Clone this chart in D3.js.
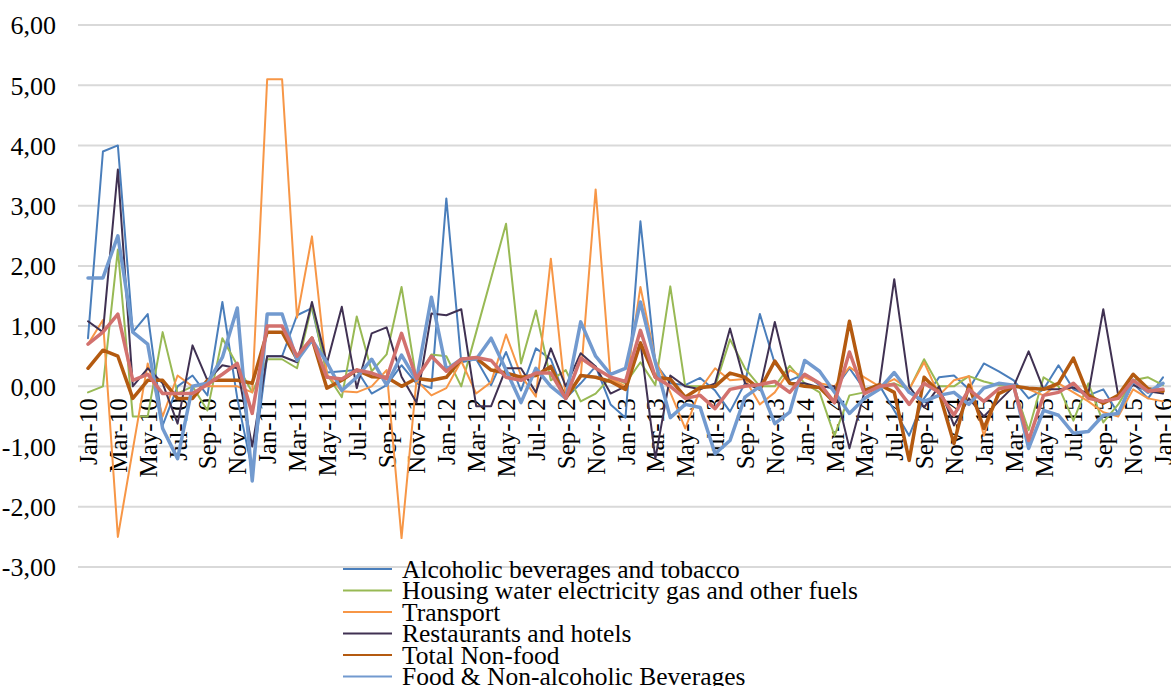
<!DOCTYPE html>
<html>
<head>
<meta charset="utf-8">
<script src="https://cdn.jsdelivr.net/npm/d3@7"></script>
<style>
  html, body { margin: 0; padding: 0; background: #ffffff; overflow: hidden; }
  svg { display: block; }
  text { font-family: "Liberation Serif", "Times New Roman", serif; fill: #000; }
</style>
</head>
<body>
<svg id="chart" width="1171" height="686"></svg>
<script>
// Monthly categories, Jan-10 .. Jan-16
const months = d3.timeMonths(new Date(2010, 0, 1), new Date(2016, 1, 1)).map(d3.timeFormat("%b-%y"));

// Y axis tick values
const yTicks = [-3, -2, -1, 0, 1, 2, 3, 4, 5, 6];

// Series (month-on-month change, %)
const alcoholic = [
  0.80, 3.90, 4.00, 0.90, 1.20, -0.65, 0.00, 0.18, -0.15, 1.40, -0.20, -1.40,
  0.50, 0.50, 1.18, 1.30, 0.23, 0.25, 0.27, -0.12, 0.02, 0.35, 0.05, -0.03,
  3.12, 0.40, 0.45, 0.02, 0.57, -0.07, 0.63, 0.45, -0.20, 0.05, 0.33, -0.30,
  -0.52, 2.74, 0.38, 0.05, 0.02, 0.14, -0.07, -0.42, 0.05, 1.20, 0.38, 0.10,
  0.20, 0.02, -0.05, 0.30, -0.05, 0.02, -0.40, -0.82, -0.20, 0.15, 0.18, -0.05,
  0.38, 0.25, 0.10, -0.20, -0.05, 0.35, -0.05, -0.15, -0.05, -0.45, 0.05, -0.20,
  0.15
];
const housing = [
  -0.10, 0.00, 2.27, -0.50, -0.50, 0.90, -0.12, 0.00, -0.40, 0.80, 0.35, -0.10,
  0.45, 0.45, 0.30, 1.35, 0.20, -0.18, 1.16, 0.25, 0.53, 1.65, 0.10, 0.53,
  0.50, 0.00, 0.90, 1.80, 2.70, 0.38, 1.26, 0.10, 0.27, -0.25, -0.12, 0.15,
  0.05, 0.40, 0.02, 1.66, 0.00, 0.00, 0.00, 0.78, 0.30, 0.00, 0.00, 0.34,
  0.05, -0.10, -0.82, -0.15, -0.10, 0.00, 0.05, -0.05, 0.45, 0.00, 0.00, 0.17,
  0.08, 0.02, 0.00, -0.73, 0.15, 0.00, -0.57, 0.05, -0.60, -0.30, 0.10, 0.15,
  0.02
];
const transport = [
  0.70, 1.10, -2.50, -1.05, 0.38, -0.50, 0.18, 0.00, 0.00, 0.00, 0.00, -0.10,
  5.10, 5.10, 1.14, 2.49, 0.20, -0.08, -0.10, 0.00, 0.27, -2.52, 0.10, -0.15,
  -0.03, 0.42, -0.12, 0.07, 0.86, 0.18, -0.17, 2.12, -0.20, 0.15, 3.27, 0.13,
  0.00, 1.65, 0.44, -0.10, -0.70, -0.05, 0.30, 0.10, 0.12, -0.30, -0.10, 0.27,
  0.15, 0.05, 0.00, 0.32, 0.15, 0.00, 0.12, -0.05, 0.40, -0.15, 0.10, 0.17,
  -0.82, -0.05, 0.02, -0.05, -0.15, 0.05, -0.10, -0.25, -0.43, -0.50, -0.05, -0.20,
  -0.25
];
const restaurants = [
  1.08, 0.90, 3.60, 0.00, 0.30, 0.05, -0.62, 0.68, 0.10, 0.35, 0.30, -1.00,
  0.50, 0.50, 0.40, 1.40, 0.38, 1.32, -0.03, 0.88, 0.98, 0.16, -0.27, 1.21,
  1.18, 1.28, -0.33, -0.33, 0.30, 0.30, -0.10, 0.63, 0.00, 0.55, 0.33, -0.12,
  0.00, 0.73, -1.20, 0.18, 0.00, -0.05, 0.05, 0.96, 0.05, -0.05, 1.07, 0.05,
  0.05, -0.02, 0.00, -1.03, -0.10, 0.02, 1.78, 0.00, -0.35, 0.00, -0.65, -0.20,
  -0.50, -0.25, 0.00, 0.58, -0.05, -0.05, -0.02, -0.12, 1.28, -0.15, 0.02, -0.08,
  -0.12
];
const totalNonFood = [
  0.30, 0.60, 0.50, -0.20, 0.10, 0.10, -0.20, -0.20, 0.10, 0.10, 0.10, 0.05,
  0.90, 0.90, 0.45, 0.80, -0.03, 0.10, 0.27, 0.16, 0.15, 0.00, 0.13, 0.10,
  0.15, 0.45, 0.47, 0.27, 0.22, 0.15, 0.18, 0.33, -0.20, 0.18, 0.15, 0.08,
  -0.05, 0.72, 0.15, 0.12, -0.18, -0.02, 0.00, 0.22, 0.15, -0.05, 0.42, 0.05,
  0.00, -0.02, -0.27, 1.08, -0.07, 0.03, -0.10, -1.23, 0.15, -0.10, -0.95, 0.02,
  -0.70, -0.12, 0.00, -0.03, -0.05, 0.05, 0.47, -0.15, -0.28, -0.15, 0.20, -0.04,
  -0.08
];
const food = [
  1.80, 1.80, 2.50, 0.90, 0.70, -0.70, -1.20, 0.00, 0.05, 0.48, 1.30, -1.57,
  1.20, 1.20, 0.43, 0.77, 0.40, -0.07, 0.15, 0.45, 0.02, 0.52, 0.10, 1.48,
  0.28, 0.45, 0.45, 0.80, 0.27, -0.27, 0.30, 0.00, -0.20, 1.07, 0.50, 0.20,
  0.30, 1.40, 0.40, -0.52, -0.30, -0.35, -1.12, -0.90, -0.18, 0.00, -0.62, -0.43,
  0.43, 0.25, -0.10, -0.45, -0.20, -0.05, 0.23, -0.10, -0.25, -0.15, -0.10, -0.30,
  -0.03, 0.05, 0.02, -1.03, -0.40, -0.48, -0.78, -0.75, -0.48, -0.45, 0.10, -0.10,
  0.05
];
const allItems = [
  0.70, 0.90, 1.20, 0.10, 0.20, -0.12, -0.12, -0.12, 0.03, 0.20, 0.38, -0.45,
  1.00, 1.00, 0.50, 0.80, 0.15, 0.12, 0.27, 0.22, 0.13, 0.88, 0.13, 0.50,
  0.25, 0.45, 0.48, 0.43, 0.15, 0.10, 0.22, 0.22, -0.20, 0.47, 0.30, 0.15,
  0.08, 0.93, 0.15, 0.00, -0.20, -0.15, -0.37, -0.05, 0.00, 0.03, 0.08, -0.10,
  0.20, 0.05, -0.27, 0.57, -0.12, 0.00, 0.03, -0.30, 0.05, -0.10, -0.48, -0.05,
  -0.25, -0.04, 0.00, -0.90, -0.15, -0.10, 0.05, -0.20, -0.25, -0.20, 0.10, -0.08,
  -0.05
];

const seriesNames = [
  "Alcoholic beverages and tobacco",
  "Housing water electricity gas and other fuels",
  "Transport",
  "Restaurants and hotels",
  "Total Non-food",
  "Food & Non-alcoholic Beverages",
  "All Items"
];
const seriesValues = [alcoholic, housing, transport, restaurants, totalNonFood, food, allItems];
const seriesColors = ["#4A7EBB", "#98B954", "#F79646", "#403152", "#B45A10", "#729ACF", "#D2716E"];
const seriesWidths = [2, 2, 2, 2, 3.5, 3.5, 3.5];

const svg = d3.select("#chart");
const W = 1171, H = 686;

const x = d3.scalePoint().domain(months).range([88, 1163]);
const y = d3.scaleLinear().domain([-3, 6]).range([567, 25]);

// Comma decimals, plain hyphen for negatives
const fmt = d3.formatLocale({
  decimal: ",", thousands: ".", grouping: [3], currency: ["", ""], minus: "-"
}).format(".2f");

// Horizontal gridlines
svg.append("g")
  .selectAll("line")
  .data(yTicks)
  .join("line")
  .attr("x1", 78).attr("x2", W)
  .attr("y1", d => y(d)).attr("y2", d => y(d))
  .attr("stroke", "#D9D9D9")
  .attr("stroke-width", 2);

// Y axis labels
const yAxis = d3.axisLeft(y).tickValues(yTicks).tickFormat(fmt).tickSize(0).tickPadding(0);
svg.append("g")
  .attr("transform", "translate(56,0)")
  .call(yAxis)
  .call(g => g.select(".domain").remove())
  .selectAll("text")
  .attr("font-family", "Liberation Serif, serif")
  .attr("font-size", 26)
  .attr("fill", "#000")
  .attr("dy", "0.34em");

// Category labels: every second month, rotated, just below the zero line
const xAxis = d3.axisBottom(x)
  .tickValues(months.filter((d, i) => i % 2 === 0))
  .tickSize(0).tickPadding(0);
svg.append("g")
  .attr("transform", `translate(0,${y(0) + 12})`)
  .call(xAxis)
  .call(g => g.select(".domain").remove())
  .selectAll("text")
  .attr("font-family", "Liberation Serif, serif")
  .attr("font-size", 25)
  .attr("fill", "#000")
  .attr("text-anchor", "end")
  .attr("transform", "rotate(-90)")
  .attr("x", 0)
  .attr("y", 0)
  .attr("dy", "0.34em");

// Lines
const line = d3.line()
  .x((d, i) => x(months[i]))
  .y(d => y(d));

svg.append("g")
  .selectAll("path")
  .data(seriesValues)
  .join("path")
  .attr("d", d => line(d))
  .attr("fill", "none")
  .attr("stroke", (d, i) => seriesColors[i])
  .attr("stroke-width", (d, i) => seriesWidths[i])
  .attr("stroke-linejoin", "round")
  .attr("stroke-linecap", "round");

// Legend
const legend = svg.append("g").attr("transform", "translate(343,569)");
const rows = legend.selectAll("g")
  .data(seriesNames)
  .join("g")
  .attr("transform", (d, i) => `translate(0,${i * 21.5})`);
rows.append("line")
  .attr("x1", 0).attr("x2", 49)
  .attr("y1", 0).attr("y2", 0)
  .attr("stroke", (d, i) => seriesColors[i])
  .attr("stroke-width", 2);
rows.append("text")
  .attr("x", 59)
  .attr("y", 8.5)
  .attr("font-size", 25.5)
  .text(d => d);
</script>
</body>
</html>
